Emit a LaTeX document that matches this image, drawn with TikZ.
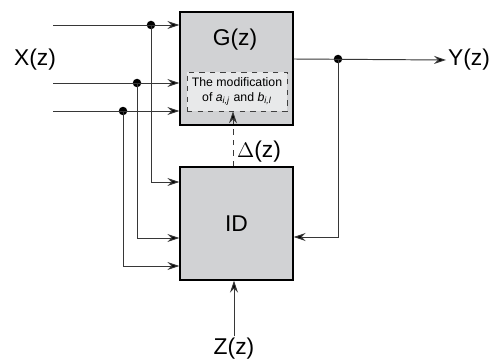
\documentclass[tikz,border=0pt]{standalone}
\usepackage{fontspec}
\setmainfont{Liberation Sans}
\usepackage{xcolor}
\usetikzlibrary{arrows.meta,positioning,calc}
\definecolor{boxgray}{RGB}{209,210,212}
\definecolor{modgray}{RGB}{232,233,234}
\definecolor{wiregray}{RGB}{55,55,55}
\tikzset{
  blockbox/.style={draw=black, thick, fill=boxgray,
    minimum width=2.26cm, minimum height=2.26cm, inner sep=0pt},
  modbox/.style={draw=black!75, dashed, fill=modgray, align=center,
    minimum width=2cm, minimum height=0.78cm, inner sep=1pt,
    font=\fontsize{7}{8}\selectfont},
  sig/.style={-{Stealth[length=2.4mm,width=1.6mm,inset=0.8mm,fill=black]}, draw=wiregray, line width=0.55pt},
  dashedsig/.style={sig, dashed},
  junction/.style={circle, fill=black, inner sep=0pt, minimum size=1.7mm},
  siglabel/.style={font=\fontsize{13}{15}\selectfont, inner sep=1pt}
}
\begin{document}
\begin{tikzpicture}[x=0.02cm, y=-0.02cm]
\useasboundingbox (0,0) rectangle (502,361);
% blocks
\node[blockbox] (gz) at (236.5,68.5) {};
\node[siglabel] (gname) at (235,40) {G(z)};
\node[modbox] (mod) at (237,91.5) {The modification\\of \textit{a}\textsubscript{\textit{i,j}} and \textit{b}\textsubscript{\textit{i,l}}};
\node[blockbox, font=\fontsize{13}{15}\selectfont] (id) at (236.5,223.5) {ID};

% labels
\node[siglabel] (xlab) at (35,60) {X(z)};
\node[siglabel, anchor=west] (ylab) at (446,60) {Y(z)};
\node[siglabel] (zlab) at (234,349) {Z(z)};
\node[siglabel] (dlab) at (259,152) {$\Delta$(z)};

% inputs
\coordinate (in1) at (53,25);
\coordinate (in2) at (53,83);
\coordinate (in3) at (53,111);
\node[junction] (j1) at (151,25) {};
\node[junction] (j2) at (137,83) {};
\node[junction] (j3) at (123,111) {};
\draw[sig] (in1) -- (gz.west |- in1);
\draw[sig] (in2) -- (gz.west |- in2);
\draw[sig] (in3) -- (gz.west |- in3);
\draw[sig] (j1.center) |- (id.west |- 0,182);
\draw[sig] (j2.center) |- (id.west |- 0,238);
\draw[sig] (j3.center) |- (id.west |- 0,266);

% output and feedback
\node[junction] (jy) at (338,59) {};
\draw[sig] (gz.east |- jy) -- (ylab.west);
\draw[sig] (jy.center) |- (id.east |- 0,237);

% modification and side input
\draw[dashedsig] (id.north -| 233,0) -- (mod.south -| 233,0);
\draw[sig] (zlab.north) -- (id.south -| zlab.north);
\end{tikzpicture}
\end{document}
